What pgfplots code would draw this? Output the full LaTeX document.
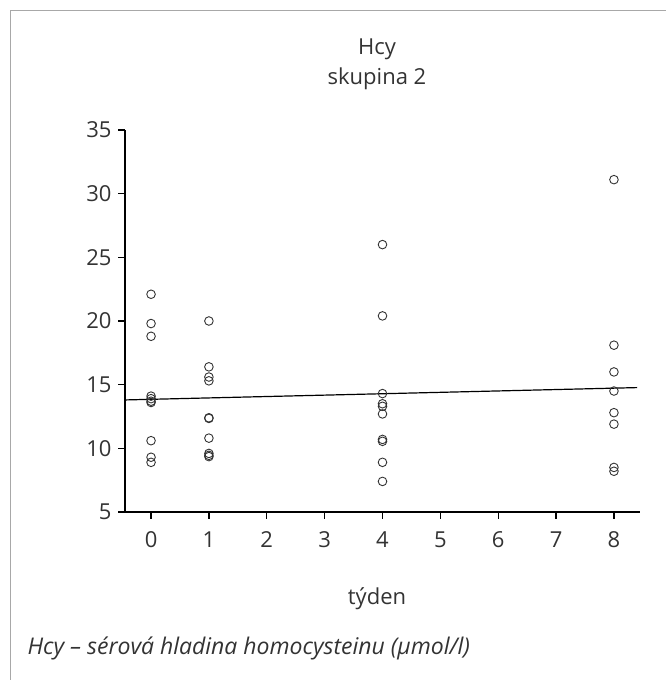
\documentclass[border=0pt]{standalone}
\usepackage{fontspec}
\setmainfont{Open Sans}
\usepackage{pgfplots}
\pgfplotsset{compat=1.18}
\definecolor{framegray}{HTML}{A8A8A8}
\definecolor{ink}{HTML}{333333}

\begin{document}
\begin{tikzpicture}
\useasboundingbox (0,0) rectangle (666pt,680pt);
% frame of the figure box (only top and left edges visible)
\draw[framegray, line width=1.5pt] (10.5pt,0) -- (10.5pt,669.5pt) -- (666pt,669.5pt);

\begin{axis}[
    at={(125pt,168pt)}, anchor=south west,
    scale only axis,
    width=515pt, height=382pt,
    xmin=-0.45, xmax=8.45,
    ymin=5, ymax=35,
    xtick={0,1,2,3,4,5,6,7,8},
    ytick={5,10,15,20,25,30,35},
    axis lines*=left,
    axis line style={black, line width=1.2pt},
    tick style={black, line width=1.2pt},
    tick align=outside,
    major tick length=7pt,
    ticklabel style={font=\fontsize{22}{26}\selectfont, text=ink},
    xticklabel style={yshift=-9pt},
    yticklabel style={xshift=-3pt},
    /pgf/number format/assume math mode=true,
    clip=false,
]
\addplot[only marks, mark=o, mark size=4.3pt, mark options={ink, line width=0.9pt}]
    table {
    x y
    0 22.1
    0 19.8
    0 18.8
    0 14.1
    0 13.9
    0 13.7
    0 13.6
    0 10.6
    0 9.3
    0 8.9
    1 20.0
    1 16.4
    1 15.6
    1 15.3
    1 12.4
    1 12.35
    1 10.8
    1 9.6
    1 9.45
    1 9.35
    4 26.0
    4 20.4
    4 14.3
    4 13.5
    4 13.3
    4 12.7
    4 10.7
    4 10.55
    4 8.9
    4 7.4
    8 31.1
    8 18.1
    8 16.0
    8 14.5
    8 12.8
    8 11.9
    8 8.5
    8 8.2
    };
% regression line
\addplot[black, line width=1.2pt] coordinates {(-0.45,13.8) (8.4,14.77)};
\end{axis}

\node[font=\fontsize{22}{26}\selectfont, text=ink] at (377pt,631pt) {Hcy};
\node[font=\fontsize{22}{26}\selectfont, text=ink] at (377pt,601pt) {skupina 2};
\node[font=\fontsize{22}{26}\selectfont, text=ink] at (377pt,81pt) {týden};
\node[font=\fontsize{23}{27}\selectfont\itshape, text=ink, anchor=west] at (24pt,32pt) {Hcy – sérová hladina homocysteinu (µmol/l)};
\end{tikzpicture}
\end{document}
